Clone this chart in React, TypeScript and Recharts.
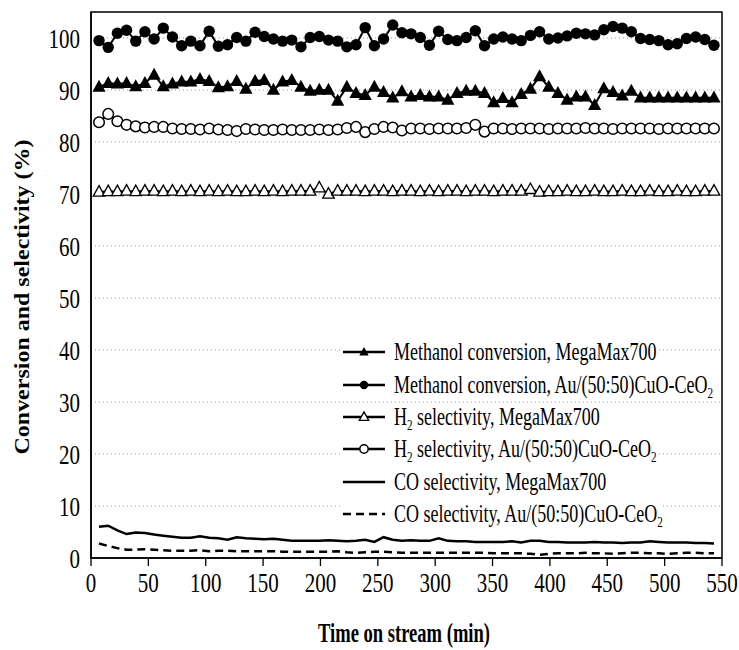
import React from "react";
import {
  LineChart,
  Line,
  XAxis,
  YAxis,
  CartesianGrid,
  Legend,
  Label,
  ReferenceArea,
} from "recharts";

const FONT = "'Liberation Serif', 'Times New Roman', serif";

// time on stream, min
const timeMin = [
  7, 15, 23, 31, 39, 47, 55, 63, 71, 79, 87, 95, 103, 111, 119, 127, 135, 143,
  151, 159, 167, 175, 183, 191, 199, 207, 215, 223, 231, 239, 247, 255, 263,
  271, 279, 287, 295, 303, 311, 319, 327, 335, 343, 351, 359, 367, 375, 383,
  391, 399, 407, 415, 423, 431, 439, 447, 455, 463, 471, 479, 487, 495, 503,
  511, 519, 527, 535, 543,
];

// methanol conversion, MegaMax700 (filled triangles)
const methMega = [
  90.6, 91.3, 91.2, 91.3, 90.7, 91.3, 92.9, 90.7, 91.2, 91.6,
  91.6, 92.1, 91.7, 90.5, 90.7, 91.7, 90.2, 91.7, 91.9, 90.0,
  91.6, 91.9, 90.6, 89.8, 90.0, 90.0, 87.9, 90.6, 89.4, 89.0,
  90.6, 89.6, 88.5, 89.7, 88.7, 89.0, 88.7, 88.7, 88.1, 89.4,
  89.8, 89.8, 89.4, 87.6, 88.4, 87.6, 89.2, 90.2, 92.6, 90.6,
  89.4, 88.1, 88.7, 88.7, 87.1, 90.3, 89.6, 88.9, 89.8, 88.5,
  88.5, 88.5, 88.5, 88.5, 88.5, 88.5, 88.5, 88.5,
];

// methanol conversion, Au/(50:50)CuO-CeO2 (filled circles)
const methAu = [
  99.5, 98.2, 100.9, 101.5, 99.4, 101.2, 99.8, 101.9, 100.2, 98.5,
  99.4, 98.5, 101.3, 98.4, 98.7, 100.1, 99.4, 101.1, 100.3, 99.8,
  99.4, 99.6, 98.3, 100.1, 100.3, 99.6, 99.4, 98.3, 98.7, 102.0,
  98.5, 99.8, 102.5, 101.0, 100.8, 100.1, 98.6, 101.3, 99.7, 99.5,
  100.1, 101.4, 98.5, 99.8, 100.2, 99.8, 99.5, 100.5, 101.2, 99.8,
  100.0, 100.4, 100.9, 100.8, 100.6, 101.6, 102.2, 101.9, 101.2, 99.9,
  99.7, 99.5, 98.7, 98.9, 99.9, 100.2, 99.7, 98.6,
];

// H2 selectivity, MegaMax700 (open triangles)
const h2Mega = [
  70.4, 70.5, 70.5, 70.6, 70.5, 70.6, 70.6, 70.5, 70.6, 70.5,
  70.6, 70.5, 70.6, 70.5, 70.6, 70.5, 70.5, 70.6, 70.5, 70.6,
  70.5, 70.6, 70.6, 70.6, 71.2, 70.0, 70.6, 70.6, 70.6, 70.5,
  70.6, 70.6, 70.5, 70.6, 70.6, 70.5, 70.6, 70.5, 70.6, 70.6,
  70.5, 70.6, 70.6, 70.5, 70.6, 70.6, 70.6, 70.9, 70.4, 70.5,
  70.5, 70.6, 70.5, 70.5, 70.6, 70.5, 70.5, 70.6, 70.5, 70.5,
  70.6, 70.5, 70.5, 70.6, 70.5, 70.5, 70.6, 70.6,
];

// H2 selectivity, Au/(50:50)CuO-CeO2 (open circles)
const h2Au = [
  83.8, 85.4, 84.0, 83.3, 83.0, 82.8, 82.9, 82.9, 82.6, 82.5,
  82.5, 82.4, 82.6, 82.4, 82.3, 82.1, 82.5, 82.4, 82.3, 82.3,
  82.4, 82.3, 82.3, 82.3, 82.4, 82.3, 82.4, 82.7, 82.9, 81.9,
  82.5, 82.9, 82.8, 82.2, 82.6, 82.6, 82.5, 82.6, 82.6, 82.6,
  82.7, 83.3, 82.0, 82.6, 82.6, 82.5, 82.6, 82.6, 82.6, 82.5,
  82.6, 82.6, 82.6, 82.7, 82.6, 82.6, 82.5, 82.6, 82.6, 82.6,
  82.6, 82.5, 82.6, 82.6, 82.6, 82.6, 82.6, 82.6,
];

// CO selectivity, MegaMax700 (solid line)
const coMega = [
  6.0, 6.2, 5.3, 4.6, 4.9, 4.8, 4.5, 4.3, 4.1, 3.9,
  3.9, 4.2, 3.9, 3.8, 3.5, 4.0, 3.8, 3.7, 3.6, 3.7,
  3.5, 3.3, 3.3, 3.3, 3.3, 3.4, 3.3, 3.2, 3.3, 3.5,
  3.1, 4.0, 3.5, 3.3, 3.4, 3.3, 3.3, 3.8, 3.3, 3.2,
  3.2, 3.1, 3.1, 3.1, 3.1, 3.2, 3.0, 3.3, 3.3, 3.1,
  3.1, 3.0, 3.0, 3.0, 3.1, 3.0, 3.0, 2.9, 3.0, 3.0,
  3.2, 3.1, 3.0, 3.0, 3.0, 2.9, 2.9, 2.8,
];

// CO selectivity, Au/(50:50)CuO-CeO2 (dashed line)
const coAu = [
  2.8, 2.3, 1.9, 1.6, 1.6, 1.7, 1.6, 1.5, 1.4, 1.4,
  1.4, 1.5, 1.3, 1.4, 1.4, 1.3, 1.3, 1.3, 1.3, 1.3,
  1.2, 1.2, 1.2, 1.2, 1.2, 1.2, 1.3, 1.1, 1.0, 1.1,
  1.2, 1.2, 1.1, 1.0, 1.0, 1.0, 1.0, 1.0, 1.0, 1.0,
  1.0, 1.0, 1.0, 0.9, 0.9, 0.9, 0.9, 0.8, 0.6, 0.8,
  0.9, 0.9, 0.9, 1.0, 0.9, 0.9, 0.8, 0.9, 1.0, 1.0,
  0.9, 0.9, 0.8, 0.9, 1.0, 1.0, 0.9, 0.9,
];

const xTicks = [0, 50, 100, 150, 200, 250, 300, 350, 400, 450, 500, 550];
const yTicks = [0, 10, 20, 30, 40, 50, 60, 70, 80, 90, 100];

const data = timeMin.map((t, i) => ({
  t,
  methMega: methMega[i],
  methAu: methAu[i],
  h2Mega: h2Mega[i],
  h2Au: h2Au[i],
  coMega: coMega[i],
  coAu: coAu[i],
}));

// plot area (chart margins + axis sizes)
const PLOT = { left: 91, top: 12, right: 722, bottom: 558 };

const triPath = (cx: number, cy: number, s: number) =>
  `M${cx},${cy - s * 0.6} L${cx + s * 0.55},${cy + s * 0.4} L${cx - s * 0.55},${cy + s * 0.4} Z`;

type MarkerKind = "triFill" | "circFill" | "triOpen" | "circOpen" | "none";

function Marker({ kind, cx, cy, big }: { kind: MarkerKind; cx: number; cy: number; big?: boolean }) {
  if (kind === "triFill") return <path d={triPath(cx, cy, big ? 12 : 8.5)} fill="#000" />;
  if (kind === "triOpen")
    return <path d={triPath(cx, cy, big ? 10.5 : 8.5)} fill="#fff" stroke="#000" strokeWidth={1.3} />;
  if (kind === "circFill") return <circle cx={cx} cy={cy} r={big ? 5.7 : 4.2} fill="#000" />;
  if (kind === "circOpen")
    return <circle cx={cx} cy={cy} r={big ? 5.3 : 4.2} fill="#fff" stroke="#000" strokeWidth={1.5} />;
  return null;
}

const dotOf = (kind: MarkerKind, id: string) => (p: any) => (
  <g key={`${id}-${p.index}`}>
    <Marker kind={kind} cx={p.cx} cy={p.cy} big />
  </g>
);

const Sub = ({ children }: { children: React.ReactNode }) => (
  <sub style={{ fontSize: "0.62em", verticalAlign: "-0.3em", lineHeight: 0 }}>{children}</sub>
);

const legendRows: { key: string; kind: MarkerKind; dash?: boolean; text: React.ReactNode }[] = [
  { key: "methMega", kind: "triFill", text: <>Methanol conversion, MegaMax700</> },
  { key: "methAu", kind: "circFill", text: <>Methanol conversion, Au/(50:50)CuO-CeO<Sub>2</Sub></> },
  { key: "h2Mega", kind: "triOpen", text: <>H<Sub>2</Sub> selectivity, MegaMax700</> },
  { key: "h2Au", kind: "circOpen", text: <>H<Sub>2</Sub> selectivity, Au/(50:50)CuO-CeO<Sub>2</Sub></> },
  { key: "coMega", kind: "none", text: <>CO selectivity, MegaMax700</> },
  { key: "coAu", kind: "none", dash: true, text: <>CO selectivity, Au/(50:50)CuO-CeO<Sub>2</Sub></> },
];

function LegendBox() {
  return (
    <div style={{ fontFamily: FONT, color: "#000" }}>
      {legendRows.map((r) => (
        <div key={r.key} style={{ height: 32.4, display: "flex", alignItems: "center" }}>
          <div style={{ display: "inline-flex", alignItems: "center", background: "#fff", height: 22 }}>
            <svg width={42} height={14} style={{ display: "block" }}>
              <line
                x1={0}
                x2={42}
                y1={7}
                y2={7}
                stroke="#000"
                strokeWidth={2.5}
                strokeDasharray={r.dash ? "8 5" : undefined}
              />
              <Marker kind={r.kind} cx={21} cy={7} />
            </svg>
            <span
              style={{
                marginLeft: 9,
                fontSize: 18,
                display: "inline-block",
                transform: "scaleY(1.4)",
                whiteSpace: "nowrap",
                lineHeight: 1,
              }}
            >
              {r.text}
            </span>
          </div>
        </div>
      ))}
    </div>
  );
}

function XTick({ x, y, payload }: any) {
  return (
    <g transform={`translate(${x},${y}) scale(1,1.35)`}>
      <text x={0} y={17.8} textAnchor="middle" fontFamily={FONT} fontSize={21} fill="#000">
        {payload.value}
      </text>
    </g>
  );
}

function YTick({ x, y, payload }: any) {
  return (
    <g transform={`translate(${x},${y}) scale(1,1.35)`}>
      <text x={-1} y={7.1} textAnchor="end" fontFamily={FONT} fontSize={21} fill="#000">
        {payload.value}
      </text>
    </g>
  );
}

export default function App() {
  return (
    <div style={{ position: "absolute", left: 0, top: 0, width: 739, height: 650, background: "#fff" }}>
      <LineChart width={739} height={650} data={data} margin={{ top: PLOT.top, right: 739 - PLOT.right, left: 0, bottom: 0 }}>
        <CartesianGrid horizontal vertical={false} stroke="#999" strokeDasharray="1 3" />
        {/* plot frame */}
        <ReferenceArea
          x1={0}
          x2={550}
          y1={0}
          y2={105}
          fill="none"
          stroke="#000"
          strokeWidth={1.5}
          ifOverflow="visible"
        />
        <XAxis
          dataKey="t"
          type="number"
          domain={[0, 550]}
          ticks={xTicks}
          height={650 - PLOT.bottom}
          tickSize={8}
          tickMargin={2}
          tick={<XTick />}
          axisLine={{ stroke: "#000", strokeWidth: 1.5 }}
          tickLine={{ stroke: "#000", strokeWidth: 1.3 }}
        >
          <Label
            content={() => (
              <g transform="translate(404,642) scale(1,1.35)">
                <text
                  x={0}
                  y={0}
                  textAnchor="middle"
                  fontFamily={FONT}
                  fontWeight="bold"
                  fontSize={20}
                  fill="#000"
                  textLength={172}
                  lengthAdjust="spacingAndGlyphs"
                >
                  Time on stream (min)
                </text>
              </g>
            )}
          />
        </XAxis>
        <YAxis
          type="number"
          domain={[0, 105]}
          ticks={yTicks}
          width={PLOT.left}
          tickSize={6}
          tickMargin={4}
          tick={<YTick />}
          tickLine={false}
          axisLine={{ stroke: "#000", strokeWidth: 1.5 }}
        >
          <Label
            content={() => (
              <text
                x={22}
                y={297}
                transform="rotate(-90 22 297)"
                textAnchor="middle"
                dominantBaseline="central"
                fontFamily={FONT}
                fontWeight="bold"
                fontSize={21}
                fill="#000"
                textLength={315}
                lengthAdjust="spacingAndGlyphs"
              >
                Conversion and selectivity (%)
              </text>
            )}
          />
        </YAxis>

        <Line dataKey="coMega" stroke="#000" strokeWidth={2.5} dot={false} isAnimationActive={false} />
        <Line
          dataKey="coAu"
          stroke="#000"
          strokeWidth={2.5}
          strokeDasharray="8 5"
          dot={false}
          isAnimationActive={false}
        />
        <Line dataKey="h2Mega" stroke="#000" strokeWidth={2} dot={dotOf("triOpen", "h2m")} isAnimationActive={false} />
        <Line dataKey="h2Au" stroke="#000" strokeWidth={2} dot={dotOf("circOpen", "h2a")} isAnimationActive={false} />
        <Line dataKey="methMega" stroke="#000" strokeWidth={2} dot={dotOf("triFill", "mm")} isAnimationActive={false} />
        <Line dataKey="methAu" stroke="#000" strokeWidth={2} dot={dotOf("circFill", "ma")} isAnimationActive={false} />

        <Legend
          layout="horizontal"
          align="center"
          verticalAlign="middle"
          width={390}
          height={200}
          wrapperStyle={{ left: 343, top: 336 }}
          content={() => <LegendBox />}
        />
      </LineChart>
    </div>
  );
}
